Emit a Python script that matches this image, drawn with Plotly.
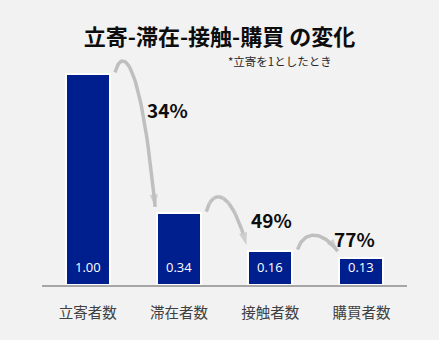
import numpy as np
import plotly.graph_objects as go

categories = ["立寄者数", "滞在者数", "接触者数", "購買者数"]
values = [1.00, 0.34, 0.16, 0.13]
value_labels = ["1.00", "0.34", "0.16", "0.13"]
step_labels = ["34%", "49%", "77%"]

title_text = "立寄-滞在-接触-購買 の変化"
note_text = "*立寄を1としたとき"

BG = "#f2f2f2"
NAVY = "#001f8f"
ARROW = "#bfbfbf"
JP = "Noto Sans CJK JP"

W, H = 439, 340
ML, MR, MT, MB = 42, 32, 40, 55
PH = H - MT - MB

x = np.arange(len(categories))
fig = go.Figure()
fig.add_trace(go.Bar(
    x=x, y=values, width=0.48,
    marker=dict(color=NAVY, line=dict(color="white", width=2)),
    hoverinfo="skip", showlegend=False,
))

# curved arrows between consecutive bars (cubic Bezier built from the bar values)
t = np.linspace(0, 1, 40)
for i in range(len(values) - 1):
    v0, v1 = values[i], values[i + 1]
    lift = 0.12 if i < 2 else 0.1
    p0 = np.array([i + 0.30, v0 + 0.008])
    p1 = np.array([i + 0.37, v0 + lift])
    p2 = np.array([i + 0.57, v0 + lift])
    p3 = np.array([i + 0.74, v1 + 0.03])
    pts = ((1 - t) ** 3)[:, None] * p0 + (3 * (1 - t) ** 2 * t)[:, None] * p1 \
        + (3 * (1 - t) * t ** 2)[:, None] * p2 + (t ** 3)[:, None] * p3
    sizes = [0] * (len(t) - 1) + [13]
    fig.add_trace(go.Scatter(
        x=pts[:, 0], y=pts[:, 1], mode="lines+markers",
        line=dict(color=ARROW, width=3.5),
        marker=dict(symbol="arrow", size=sizes, color=ARROW, angleref="previous",
                    line=dict(width=0)),
        hoverinfo="skip", showlegend=False,
    ))

annotations = []
# value labels inside bars
for i, lab in enumerate(value_labels):
    annotations.append(dict(x=i, y=0, yanchor="bottom", yshift=7, text=lab,
                            showarrow=False, xref="x", yref="y",
                            font=dict(family="Open Sans", size=13, color="white")))
# step percentage labels
pct_pos = [(0.87, 0.83), (2.02, 0.31), (2.92, 0.22)]
for (px, py), lab in zip(pct_pos, step_labels):
    annotations.append(dict(x=px, y=py, text="<b>" + lab + "</b>", showarrow=False,
                            xref="x", yref="y",
                            font=dict(family=JP, size=19, color="#0d0d0d")))
# note
annotations.append(dict(x=(280 - ML) / (W - ML - MR), y=(H - MB - 61) / PH,
                        xref="paper", yref="paper",
                        text=note_text, showarrow=False, xanchor="center", yanchor="middle",
                        font=dict(family=JP, size=11.5, color="#262626")))

fig.update_layout(
    width=W, height=H,
    margin=dict(l=ML, r=MR, t=MT, b=MB),
    paper_bgcolor=BG, plot_bgcolor=BG,
    title=dict(text="<b>" + title_text + "</b>", x=0.5, xanchor="center",
               y=1 - 37 / H, yanchor="middle", yref="container",
               font=dict(family=JP, size=22, color="#0d0d0d")),
    annotations=annotations,
    xaxis=dict(range=[-0.5, 3.5], tickvals=list(x), ticktext=categories,
               showline=True, linecolor="#a6a6a6", linewidth=1.5,
               ticks="outside", ticklen=14, tickcolor=BG, showgrid=False,
               zeroline=False, fixedrange=True,
               tickfont=dict(family=JP, size=14.5, color="#404040")),
    yaxis=dict(range=[0, 245 / 211], visible=False, showgrid=False, zeroline=False),
    bargap=0,
)

fig.write_html("out.html")
